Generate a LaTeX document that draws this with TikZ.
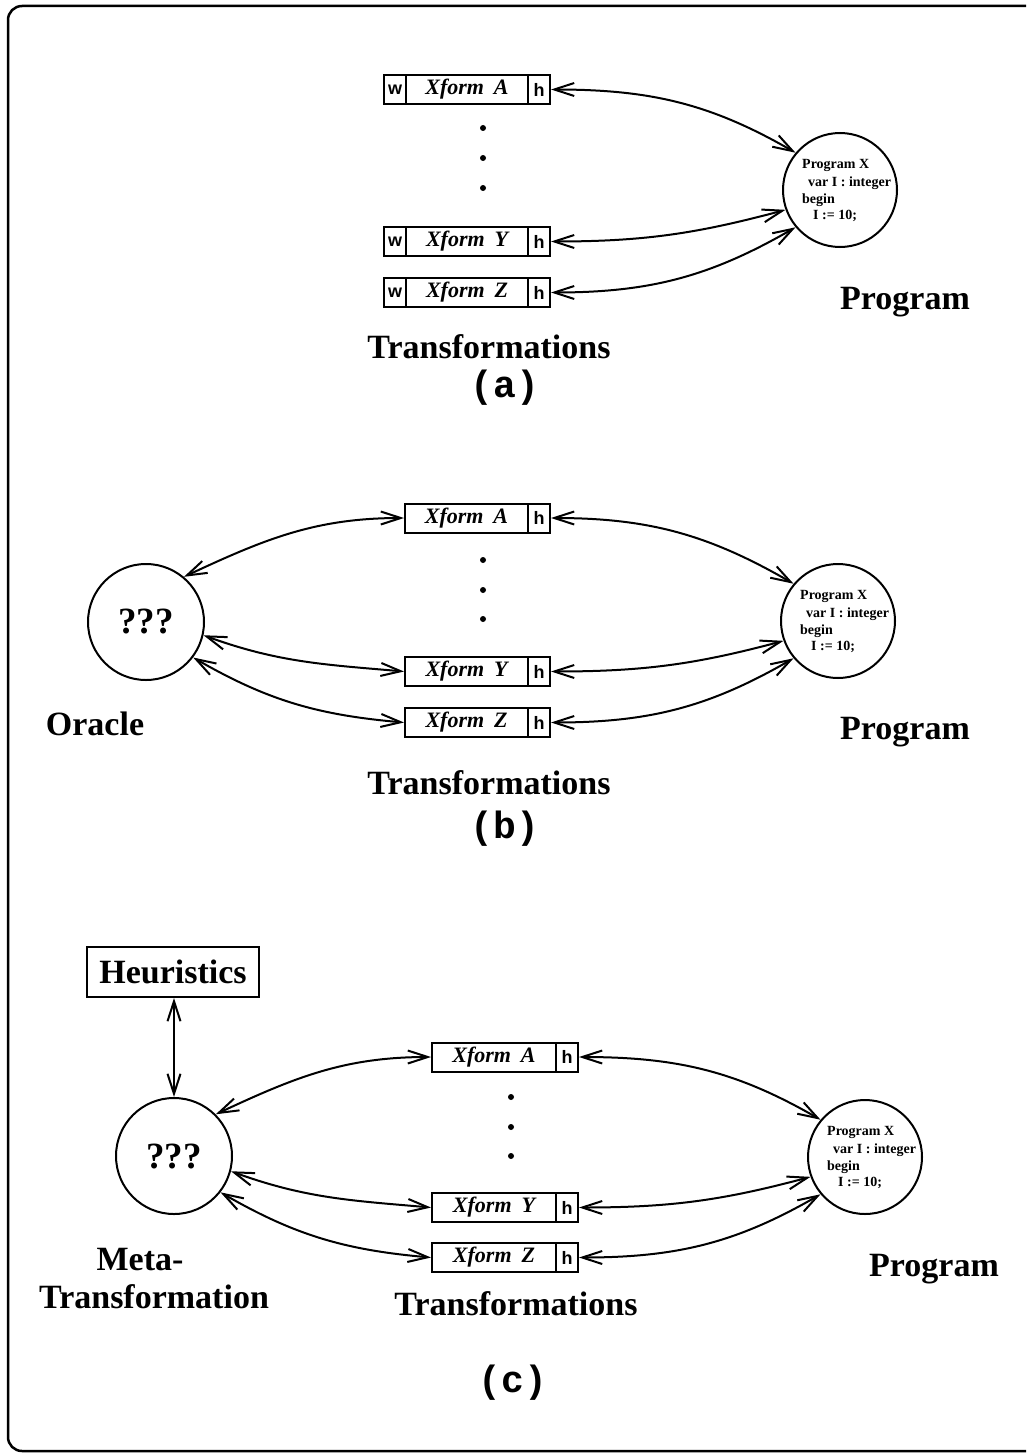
\documentclass[tikz,border=0pt]{standalone}
\usepackage{fontspec}
\setmainfont{Liberation Serif}
\setsansfont{Liberation Sans}
\setmonofont{Liberation Mono}
\usetikzlibrary{arrows.meta}

% the little program listing written inside a program circle
\newcommand\codelines[1]{%
  \node[code] (#1c1) at ([shift={(-38pt,22pt)}]#1.center) {Program X};
  \node[code] (#1c2) at ([shift={(-32pt,4pt)}]#1.center) {var I : integer};
  \node[code] (#1c3) at ([shift={(-38pt,-13pt)}]#1.center) {begin};
  \node[code] (#1c4) at ([shift={(-27pt,-29pt)}]#1.center) {I := 10;};
}

\begin{document}
\begin{tikzpicture}[x=1pt,y=1pt,
  big/.style={font=\bfseries\fontsize{34}{38}\selectfont, inner sep=0},
  tag/.style={font=\ttfamily\bfseries\fontsize{38}{40}\selectfont, inner sep=0},
  cell/.style={draw, line width=2pt, minimum height=29pt, inner sep=0},
  xf/.style={cell, font=\bfseries\itshape\fontsize{22}{24}\selectfont},
  whcell/.style={cell, minimum width=22pt, font=\sffamily\bfseries\fontsize{18}{18}\selectfont},
  ring/.style={draw, circle, line width=2pt, minimum size=114pt, inner sep=0},
  qring/.style={ring, minimum size=116pt, font=\bfseries\fontsize{37}{37}\selectfont},
  code/.style={font=\bfseries\fontsize{14}{14}\selectfont, inner sep=0, anchor=base west},
  dotmark/.style={fill, circle, minimum size=6pt, inner sep=0},
  link/.style={line width=2pt, {Straight Barb[length=20pt,width=13pt]}-{Straight Barb[length=20pt,width=13pt]}},
]
\useasboundingbox (0,0) rectangle (1026,-1453);

% outer frame, open on the right where the page ends
\draw[line width=2.5pt, rounded corners=14pt] (1026,-6) -- (8,-6) -- (8,-1451) -- (1026,-1451);

% ---------------- (a) ----------------
\node[whcell] (aAw) at (395,-89.5) {w};
\node[xf, minimum width=122pt] (aA) at (467,-89.5) {Xform\hspace{0.45em}A};
\node[whcell] (aAh) at (539,-89.5) {h};
\node[whcell] (aYw) at (395,-241.5) {w};
\node[xf, minimum width=122pt] (aY) at (467,-241.5) {Xform\hspace{0.45em}Y};
\node[whcell] (aYh) at (539,-241.5) {h};
\node[whcell] (aZw) at (395,-292.5) {w};
\node[xf, minimum width=122pt] (aZ) at (467,-292.5) {Xform\hspace{0.45em}Z};
\node[whcell] (aZh) at (539,-292.5) {h};
\node[dotmark] (aD1) at (483,-128) {};
\node[dotmark] (aD2) at (483,-158) {};
\node[dotmark] (aD3) at (483,-188) {};
\node[ring] (aP) at (840,-190) {};
\codelines{aP}
\node[big, anchor=base] (aPl) at (905,-309) {Program};
\node[big] (aTl) at (489,-347) {Transformations};
\node[tag] (aTag) at (505,-388) {(a)};
\draw[link] (aAh.east) to[out=0,in=150] (aP.140);
\draw[link] (aYh.east) to[out=0,in=195] (aP.200);
\draw[link] (aZh.east) to[out=0,in=210] (aP.220);

% ---------------- (b) ----------------
\node[xf, minimum width=123pt] (bA) at (466.5,-518) {Xform\hspace{0.45em}A};
\node[whcell] (bAh) at (539,-518) {h};
\node[xf, minimum width=123pt] (bY) at (466.5,-671.5) {Xform\hspace{0.45em}Y};
\node[whcell] (bYh) at (539,-671.5) {h};
\node[xf, minimum width=123pt] (bZ) at (466.5,-722.5) {Xform\hspace{0.45em}Z};
\node[whcell] (bZh) at (539,-722.5) {h};
\node[dotmark] (bD1) at (483,-560) {};
\node[dotmark] (bD2) at (483,-590) {};
\node[dotmark] (bD3) at (483,-619) {};
\node[qring] (bO) at (146,-622) {???};
\node[ring] (bP) at (838,-621) {};
\codelines{bP}
\node[big] (bOl) at (95,-724) {Oracle};
\node[big, anchor=base] (bPl) at (905,-739) {Program};
\node[big] (bTl) at (489,-783) {Transformations};
\node[tag] (bTag) at (505,-829) {(b)};
\draw[link] (bO.50) to[out=25,in=180] (bA.west);
\draw[link] (bO.347) to[out=-20,in=175] (bY.west);
\draw[link] (bO.323) to[out=-30,in=175] (bZ.west);
\draw[link] (bAh.east) to[out=0,in=150] (bP.140);
\draw[link] (bYh.east) to[out=0,in=195] (bP.200);
\draw[link] (bZh.east) to[out=0,in=210] (bP.220);

% ---------------- (c) ----------------
\node[big, draw, line width=2pt, minimum width=172pt, minimum height=50pt] (cH) at (173,-972) {Heuristics};
\node[qring] (cM) at (174,-1156) {???};
\node[xf, minimum width=124pt] (cA) at (494,-1057) {Xform\hspace{0.45em}A};
\node[whcell] (cAh) at (567,-1057) {h};
\node[xf, minimum width=124pt] (cY) at (494,-1207.5) {Xform\hspace{0.45em}Y};
\node[whcell] (cYh) at (567,-1207.5) {h};
\node[xf, minimum width=124pt] (cZ) at (494,-1257.5) {Xform\hspace{0.45em}Z};
\node[whcell] (cZh) at (567,-1257.5) {h};
\node[dotmark] (cD1) at (511,-1097) {};
\node[dotmark] (cD2) at (511,-1127) {};
\node[dotmark] (cD3) at (511,-1156) {};
\node[ring] (cP) at (865,-1157) {};
\codelines{cP}
\node[big] (cMl1) at (140,-1260) {Meta-};
\node[big] (cMl2) at (154,-1297) {Transformation};
\node[big, anchor=base] (cPl) at (934,-1276) {Program};
\node[big] (cTl) at (516,-1304) {Transformations};
\node[tag] (cTag) at (513,-1383) {(c)};
\draw[link] (cH.south -| cM.north) -- (cM.north);
\draw[link] (cM.45) to[out=25,in=180] (cA.west);
\draw[link] (cM.345) to[out=-20,in=175] (cY.west);
\draw[link] (cM.322) to[out=-30,in=175] (cZ.west);
\draw[link] (cAh.east) to[out=0,in=150] (cP.140);
\draw[link] (cYh.east) to[out=0,in=195] (cP.200);
\draw[link] (cZh.east) to[out=0,in=210] (cP.220);
\end{tikzpicture}
\end{document}
